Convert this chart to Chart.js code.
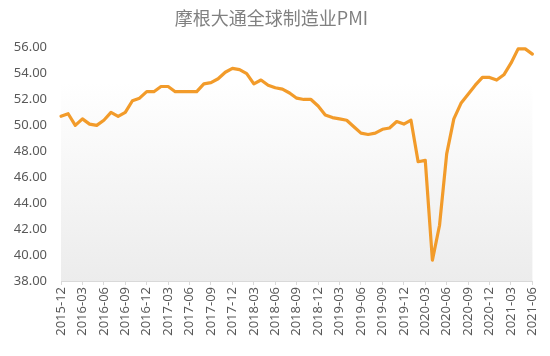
<!DOCTYPE html>
<html>
<head>
<meta charset="utf-8">
<script src="https://cdn.jsdelivr.net/npm/chart.js@4/dist/chart.umd.min.js"></script>
<style>
html,body{margin:0;padding:0;background:#fff;}
canvas{display:block;}
</style>
</head>
<body>
<canvas id="c" width="550" height="356"></canvas>
<script>
const chartTitle = "摩根大通全球制造业PMI";

const months = [
  "2015-12",
  "2016-01","2016-02","2016-03","2016-04","2016-05","2016-06","2016-07","2016-08","2016-09","2016-10","2016-11","2016-12",
  "2017-01","2017-02","2017-03","2017-04","2017-05","2017-06","2017-07","2017-08","2017-09","2017-10","2017-11","2017-12",
  "2018-01","2018-02","2018-03","2018-04","2018-05","2018-06","2018-07","2018-08","2018-09","2018-10","2018-11","2018-12",
  "2019-01","2019-02","2019-03","2019-04","2019-05","2019-06","2019-07","2019-08","2019-09","2019-10","2019-11","2019-12",
  "2020-01","2020-02","2020-03","2020-04","2020-05","2020-06","2020-07","2020-08","2020-09","2020-10","2020-11","2020-12",
  "2021-01","2021-02","2021-03","2021-04","2021-05","2021-06"
];

const pmiValues = [
  50.7,
  50.9,50.0,50.5,50.1,50.0,50.4,51.0,50.7,51.0,51.9,52.1,52.6,
  52.6,53.0,53.0,52.6,52.6,52.6,52.6,53.2,53.3,53.6,54.1,54.4,
  54.3,54.0,53.2,53.5,53.1,52.9,52.8,52.5,52.1,52.0,52.0,51.5,
  50.8,50.6,50.5,50.4,49.9,49.4,49.3,49.4,49.7,49.8,50.3,50.1,
  50.4,47.2,47.3,39.6,42.3,47.8,50.5,51.7,52.4,53.1,53.7,53.7,
  53.5,53.9,54.8,55.9,55.9,55.5
];

const yMin = 38, yMax = 56, yStep = 2;
const labelEvery = 3;

const bgPlugin = {
  id: 'plotBg',
  beforeDraw(chart) {
    const {ctx, chartArea: a} = chart;
    const g = ctx.createLinearGradient(0, a.top, 0, a.bottom);
    g.addColorStop(0, '#ffffff');
    g.addColorStop(0.15, '#ffffff');
    g.addColorStop(1, '#ececec');
    ctx.save();
    ctx.fillStyle = g;
    ctx.fillRect(a.left, a.top, a.right - a.left, a.bottom - a.top);
    ctx.restore();
  }
};

new Chart(document.getElementById('c'), {
  type: 'line',
  data: {
    labels: months,
    datasets: [{
      data: pmiValues,
      borderColor: '#F29B2A',
      borderWidth: 3.2,
      pointRadius: 0,
      tension: 0,
      borderJoinStyle: 'round',
      borderCapStyle: 'round',
      fill: false,
      clip: 6
    }]
  },
  options: {
    responsive: false,
    devicePixelRatio: 1,
    animation: false,
    layout: { padding: { left: 10, right: 17, top: 0, bottom: 0 } },
    plugins: {
      legend: { display: false },
      tooltip: { enabled: false },
      title: {
        display: true,
        text: chartTitle,
        color: '#808080',
        font: { family: '"Noto Sans CJK SC", "Noto Sans", sans-serif', size: 18, weight: 'normal', lineHeight: 1.2 },
        padding: { top: 7, bottom: 19 }
      }
    },
    scales: {
      x: {
        offset: false,
        border: { display: true, color: '#d9d9d9', width: 1 },
        grid: {
          display: true,
          drawOnChartArea: false,
          drawTicks: true,
          tickLength: 4,
          color: (ctx) => (ctx.index % labelEvery === 0 ? '#d9d9d9' : 'rgba(0,0,0,0)')
        },
        ticks: {
          autoSkip: false,
          maxRotation: 90,
          minRotation: 90,
          padding: 2,
          color: '#595959',
          font: { family: '"Noto Sans", sans-serif', size: 13 },
          callback: function(v, i) { return i % labelEvery === 0 ? months[i] : ''; }
        },
        afterFit: (s) => { s.height = 75; }
      },
      y: {
        min: yMin,
        max: yMax,
        border: { display: false },
        grid: { display: false, drawTicks: false },
        ticks: {
          stepSize: yStep,
          padding: 14,
          color: '#595959',
          font: { family: '"Noto Sans", sans-serif', size: 13 },
          callback: (v) => Number(v).toFixed(2)
        },
        afterFit: (s) => { s.width = 51; }
      }
    }
  },
  plugins: [bgPlugin]
});
</script>
</body>
</html>
